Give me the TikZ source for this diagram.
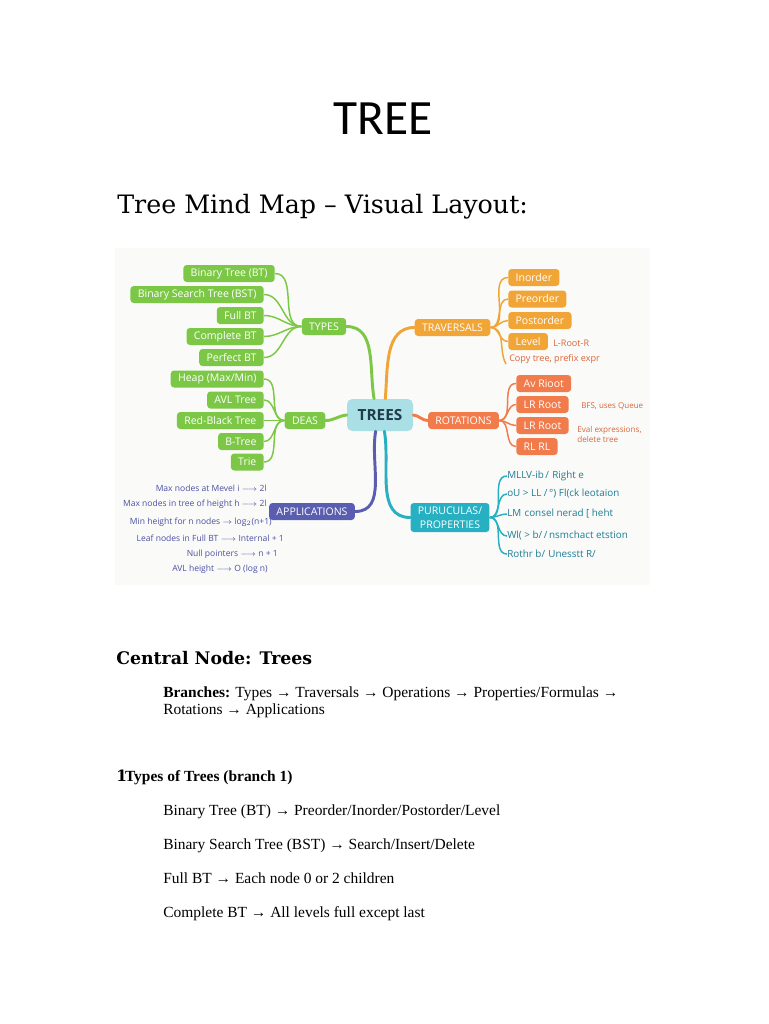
\documentclass[tikz,border=0pt]{standalone}
\usepackage{fontspec}
\setmainfont{Liberation Serif}
\newfontfamily\titlefont{Carlito}
\newfontfamily\headfont{DejaVu Serif}
\newfontfamily\mapfont{Open Sans}

\definecolor{typesgreen}{HTML}{7CC846}
\definecolor{travorange}{HTML}{F0A536}
\definecolor{rotred}{HTML}{F27B4B}
\definecolor{appblue}{HTML}{5A5EB0}
\definecolor{propteal}{HTML}{26B0C2}
\definecolor{rootcyan}{HTML}{AADFE5}
\definecolor{rootink}{HTML}{1D3C4C}
\definecolor{appink}{HTML}{4B50A3}
\definecolor{propink}{HTML}{1E7D96}
\definecolor{noteink}{HTML}{D9663C}
\definecolor{mapback}{HTML}{FAFAF8}

\tikzset{
  box/.style={rounded corners=2.5pt, minimum height=12.75pt, inner xsep=5.5pt, inner ysep=0pt,
    text=white, font=\mapfont\fontsize{7.9}{9}\selectfont},
  typebox/.style={box, fill=typesgreen},
  travbox/.style={box, fill=travorange},
  rotbox/.style={box, fill=rotred},
  appbox/.style={box, fill=appblue},
  propbox/.style={box, fill=propteal},
  apptext/.style={anchor=east, inner sep=0pt, text=appink, font=\mapfont\fontsize{6.4}{7}\selectfont},
  proptext/.style={anchor=west, inner sep=0pt, text=propink, font=\mapfont\fontsize{7.4}{8}\selectfont},
  notetext/.style={anchor=west, inner sep=0pt, text=noteink, font=\mapfont\fontsize{6.8}{7.5}\selectfont},
  body/.style={anchor=base west, inner sep=0pt, font=\fontsize{11.6}{13}\selectfont},
  link/.style={line width=2.2pt, line cap=round},
  twig/.style={line width=1.1pt},
}

\begin{document}
\begin{tikzpicture}[x=0.75pt, y=-0.75pt]
\useasboundingbox (0,0) rectangle (768,1024);
\fill[white] (0,0) rectangle (768,1024);

\node[inner sep=0pt, font=\titlefont\fontsize{37}{40}\selectfont] (title) at (383,119) {TREE};
\node[anchor=base west, inner sep=0pt, font=\headfont\fontsize{19}{22}\selectfont] (subtitle) at (117,213) {Tree Mind Map – Visual Layout:};

\fill[mapback] (115,248) rectangle (650,585);

\node[rounded corners=4pt, fill=rootcyan, text=rootink, minimum width=49.5pt, minimum height=24pt,
  font=\mapfont\bfseries\fontsize{11.5}{12}\selectfont] (trees) at (380,415) {TREES};

\node[typebox] (types) at (324,326.5) {TYPES};
\node[typebox] (deas) at (305,420.5) {DEAS};
\node[travbox] (trav) at (452.5,327.5) {TRAVERSALS};
\node[rotbox] (rot) at (463.5,420.5) {ROTATIONS};
\node[appbox] (app) at (312,511.5) {APPLICATIONS};
\node[propbox, align=center, minimum height=21.75pt, font=\mapfont\fontsize{7.9}{10.5}\selectfont] (prop) at (450,517.5) {PURUCULAS/\\PROPERTIES};

\draw[link, typesgreen] (types.east) to[out=0, in=100] (trees.110);
\draw[link, typesgreen] (deas.east) to[out=0, in=185] (trees.west);
\draw[link, travorange] (trees.72) to[out=85, in=180] (trav.west);
\draw[link, rotred] (trees.east) to[out=-5, in=180] (rot.west);
\draw[link, appblue] (trees.-105) to[out=-100, in=0] (app.east);
\draw[link, propteal] (trees.-75) to[out=-80, in=180] (prop.west);

\node[typebox, anchor=east] (bt) at (275,273.5) {Binary Tree (BT)};
\node[typebox, anchor=east] (bst) at (264,294.5) {Binary Search Tree (BST)};
\node[typebox, anchor=east] (fullbt) at (264,315.5) {Full BT};
\node[typebox, anchor=east] (compbt) at (264,336.5) {Complete BT};
\node[typebox, anchor=east] (perfbt) at (264,357.5) {Perfect BT};
\draw[twig, typesgreen] (types.west) to[out=180, in=0] (bt.east);
\draw[twig, typesgreen] (types.west) to[out=180, in=0] (bst.east);
\draw[twig, typesgreen] (types.west) to[out=180, in=0] (fullbt.east);
\draw[twig, typesgreen] (types.west) to[out=180, in=0] (compbt.east);
\draw[twig, typesgreen] (types.west) to[out=180, in=0] (perfbt.east);

\node[typebox, anchor=east] (heap) at (264,379) {Heap (Max/Min)};
\node[typebox, anchor=east] (avl) at (264,400) {AVL Tree};
\node[typebox, anchor=east] (rbt) at (264,420.5) {Red-Black Tree};
\node[typebox, anchor=east] (btree) at (264,441.5) {B-Tree};
\node[typebox, anchor=east] (trie) at (264,462) {Trie};
\draw[twig, typesgreen] (deas.west) to[out=180, in=0] (heap.east);
\draw[twig, typesgreen] (deas.west) to[out=180, in=0] (avl.east);
\draw[twig, typesgreen] (deas.west) to[out=180, in=0] (rbt.east);
\draw[twig, typesgreen] (deas.west) to[out=180, in=0] (btree.east);
\draw[twig, typesgreen] (deas.west) to[out=180, in=0] (trie.east);

\node[travbox, anchor=west] (inorder) at (508,277.5) {Inorder};
\node[travbox, anchor=west] (preorder) at (508,299) {Preorder};
\node[travbox, anchor=west] (postorder) at (508,320.5) {Postorder};
\node[travbox, anchor=west] (level) at (508,341.5) {Level};
\node[notetext] (lrootr) at (553,343) {L-Root-R};
\node[notetext] (copy) at (509,359) {Copy tree, prefix expr};
\coordinate (copyend) at (506,364);
\draw[twig, travorange] (trav.east) to[out=0, in=180] (inorder.west);
\draw[twig, travorange] (trav.east) to[out=0, in=180] (preorder.west);
\draw[twig, travorange] (trav.east) to[out=0, in=180] (postorder.west);
\draw[twig, travorange] (trav.east) to[out=0, in=180] (level.west);
\draw[twig, travorange] (trav.east) to[out=0, in=120] (copyend);

\node[rotbox, anchor=west] (avroot) at (516,383.5) {Av Rioot};
\node[rotbox, anchor=west] (lrroot) at (516,404.5) {LR Root};
\node[rotbox, anchor=west] (lrrootb) at (516,425.5) {LR Root};
\node[rotbox, anchor=west] (rlrl) at (516,446.5) {RL RL};
\node[notetext, font=\mapfont\fontsize{6}{7}\selectfont] (bfs) at (581,406) {BFS, uses Queue};
\node[notetext, align=left, font=\mapfont\fontsize{6.1}{7.5}\selectfont] (eval) at (577,434) {Eval expressions,\\delete tree};
\draw[twig, rotred] (rot.east) to[out=0, in=180] (avroot.west);
\draw[twig, rotred] (rot.east) to[out=0, in=180] (lrroot.west);
\draw[twig, rotred] (rot.east) to[out=0, in=180] (lrrootb.west);
\draw[twig, rotred] (rot.east) to[out=0, in=180] (rlrl.west);

\node[proptext] (pa) at (507,476) {MLLV-ib\,/\,\,Right e};
\node[proptext] (pb) at (507,494) {oU > LL /\,°) Fl(ck leotaion};
\node[proptext] (pc) at (507,514) {LM\,\,consel nerad [ heht};
\node[proptext] (pd) at (507,536) {Wl( > b/\,/\,nsmchact etstion};
\node[proptext] (pe) at (507,554) {Rothr b/\,\,Unesstt R/};
\draw[twig, propteal] (prop.east) to[out=0, in=180] (pa.west);
\draw[twig, propteal] (prop.east) to[out=0, in=180] (pb.west);
\draw[twig, propteal] (prop.east) to[out=0, in=180] (pc.west);
\draw[twig, propteal] (prop.east) to[out=0, in=180] (pd.west);
\draw[twig, propteal] (prop.east) to[out=0, in=180] (pe.west);

\node[apptext] (fa) at (267,488) {Max nodes at Mevel i $\longrightarrow$ 2l};
\node[apptext] (fb) at (267,504) {Max nodes in tree of height h $\longrightarrow$ 2l};
\node[apptext] (fc) at (272,522) {Min height for n nodes $\rightarrow$ log$_2$(n+1)};
\node[apptext] (fd) at (284,538) {Leaf nodes in Full BT $\longrightarrow$ Internal + 1};
\node[apptext] (fe) at (278,554) {Null pointers $\longrightarrow$ n + 1};
\node[apptext] (ff) at (268,569) {AVL height $\longrightarrow$ O (log n)};

\node[anchor=base west, inner sep=0pt, font=\headfont\bfseries\fontsize{13}{15}\selectfont] (central) at (116,664) {Central Node: Trees};
\node[body] (branchesa) at (163,697) {\textbf{Branches:} Types → Traversals → Operations → Properties/Formulas →};
\node[body] (branchesb) at (163,714) {Rotations → Applications};

\node[body, font=\bfseries\fontsize{11.6}{13}\selectfont] (typeshead) at (116,781) {{\headfont 1}\kern-1.5pt Types of Trees (branch 1)};
\node[body] (linea) at (163,815) {Binary Tree (BT) → Preorder/Inorder/Postorder/Level};
\node[body] (lineb) at (163,849) {Binary Search Tree (BST) → Search/Insert/Delete};
\node[body] (linec) at (163,883) {Full BT → Each node 0 or 2 children};
\node[body] (lined) at (163,917) {Complete BT → All levels full except last};
\end{tikzpicture}
\end{document}
